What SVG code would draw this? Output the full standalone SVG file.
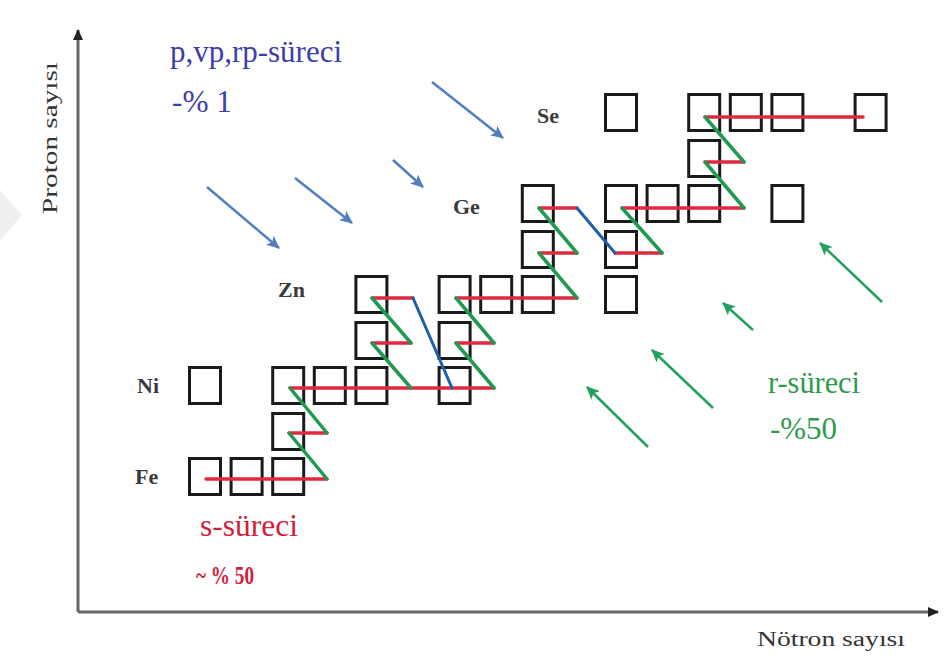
<svg xmlns="http://www.w3.org/2000/svg" width="944" height="661" viewBox="0 0 944 661">
<style>
.box{fill:none;stroke:#1a1a1a;stroke-width:3}
.red{stroke:#de2a40;stroke-width:3.5;fill:none;stroke-linecap:round}
.grn{stroke:#1f9a52;stroke-width:3.5;fill:none;stroke-linecap:round}
.blu{stroke:#1f5ea8;stroke-width:3;fill:none;stroke-linecap:round}
.parr{stroke:#4f80bd;stroke-width:2.5;fill:none}
.rarr{stroke:#22a060;stroke-width:2.5;fill:none}
.axis{stroke:#666;stroke-width:3;fill:none}
.el{font-family:"Liberation Serif",serif;font-weight:bold;font-size:22px;fill:#3a3a3a}
.pt{font-family:"Liberation Serif",serif;font-size:31px;fill:#3d3dab}
.rt{font-family:"Liberation Serif",serif;font-size:31px;fill:#2e9a4e}
.st{font-family:"Liberation Serif",serif;font-size:31px;fill:#d0203a}
.sb{font-family:"Liberation Serif",serif;font-size:25px;font-weight:bold;fill:#d0203a}
.ax{font-family:"Liberation Serif",serif;font-size:20px;fill:#333}
</style>
<defs>
<marker id="hb" markerUnits="userSpaceOnUse" markerWidth="14" markerHeight="12" refX="12" refY="6" orient="auto"><path d="M0,0 L13,6 L0,12 L3,6 z" fill="#4f80bd"/></marker>
<marker id="hg" markerUnits="userSpaceOnUse" markerWidth="14" markerHeight="12" refX="12" refY="6" orient="auto"><path d="M0,0 L13,6 L0,12 L3,6 z" fill="#22a060"/></marker>
<marker id="hk" markerUnits="userSpaceOnUse" markerWidth="12" markerHeight="10" refX="10" refY="5" orient="auto"><path d="M0,0 L11,5 L0,10 z" fill="#222"/></marker>
</defs>
<rect width="944" height="661" fill="#fff"/>
<polygon points="0,190 22,215 0,240" fill="#efefef"/>

<g id="axes">
<path class="axis" d="M78,612 L78,30" marker-end="url(#hk)"/>
<path class="axis" d="M78,612 L938,612" marker-end="url(#hk)"/>
<text class="ax" transform="translate(57,138) rotate(-90)" text-anchor="middle" textLength="152" lengthAdjust="spacingAndGlyphs">Proton sayısı</text>
<text class="ax" x="757" y="646" textLength="148" lengthAdjust="spacingAndGlyphs">Nötron sayısı</text>
</g>

<g id="labels">
<text class="el" x="137" y="393">Ni</text>
<text class="el" x="135" y="484">Fe</text>
<text class="el" x="278" y="297">Zn</text>
<text class="el" x="453" y="214">Ge</text>
<text class="el" x="537" y="123">Se</text>
</g>

<g id="p-label"><text class="pt" x="170" y="62" textLength="172" lengthAdjust="spacingAndGlyphs">p,vp,rp-süreci</text><text class="pt" x="172" y="112" textLength="60" lengthAdjust="spacingAndGlyphs">-% 1</text></g>
<g id="r-label"><text class="rt" x="768" y="393" textLength="92" lengthAdjust="spacingAndGlyphs">r-süreci</text><text class="rt" x="770" y="439" textLength="67" lengthAdjust="spacingAndGlyphs">-%50</text></g>
<g id="s-label"><text class="st" x="200" y="536" textLength="98" lengthAdjust="spacingAndGlyphs">s-süreci</text><text class="sb" x="196" y="584" textLength="58" lengthAdjust="spacingAndGlyphs">~ % 50</text></g>

<g id="nuclei">
<g id="fe-54"><rect class="box" x="189.5" y="458.5" width="31" height="36"/></g>
<g id="fe-56"><rect class="box" x="231.1" y="458.5" width="31" height="36"/></g>
<g id="fe-57"><rect class="box" x="272.7" y="458.5" width="31" height="36"/></g>
<g id="co-59"><rect class="box" x="272.7" y="413.5" width="31" height="36"/></g>
<g id="ni-56"><rect class="box" x="189.5" y="367.5" width="31" height="36"/></g>
<g id="ni-58"><rect class="box" x="272.7" y="367.5" width="31" height="36"/></g>
<g id="ni-59"><rect class="box" x="314.3" y="367.5" width="31" height="36"/></g>
<g id="ni-60"><rect class="box" x="355.9" y="367.5" width="31" height="36"/></g>
<g id="ni-62"><rect class="box" x="439.1" y="367.5" width="31" height="36"/></g>
<g id="cu-63"><rect class="box" x="355.9" y="322.5" width="31" height="36"/></g>
<g id="cu-65"><rect class="box" x="439.1" y="322.5" width="31" height="36"/></g>
<g id="zn-64"><rect class="box" x="355.9" y="276.5" width="31" height="36"/></g>
<g id="zn-66"><rect class="box" x="439.1" y="276.5" width="31" height="36"/></g>
<g id="zn-67"><rect class="box" x="480.7" y="276.5" width="31" height="36"/></g>
<g id="zn-68"><rect class="box" x="522.3" y="276.5" width="31" height="36"/></g>
<g id="zn-70"><rect class="box" x="605.5" y="276.5" width="31" height="36"/></g>
<g id="ga-69"><rect class="box" x="522.3" y="231.5" width="31" height="36"/></g>
<g id="ga-71"><rect class="box" x="605.5" y="231.5" width="31" height="36"/></g>
<g id="ge-70"><rect class="box" x="522.3" y="185.5" width="31" height="36"/></g>
<g id="ge-72"><rect class="box" x="605.5" y="185.5" width="31" height="36"/></g>
<g id="ge-73"><rect class="box" x="647.1" y="185.5" width="31" height="36"/></g>
<g id="ge-74"><rect class="box" x="688.7" y="185.5" width="31" height="36"/></g>
<g id="ge-76"><rect class="box" x="771.9" y="185.5" width="31" height="36"/></g>
<g id="as-75"><rect class="box" x="688.7" y="140.5" width="31" height="36"/></g>
<g id="se-74"><rect class="box" x="605.5" y="94.5" width="31" height="36"/></g>
<g id="se-76"><rect class="box" x="688.7" y="94.5" width="31" height="36"/></g>
<g id="se-77"><rect class="box" x="730.3" y="94.5" width="31" height="36"/></g>
<g id="se-78"><rect class="box" x="771.9" y="94.5" width="31" height="36"/></g>
<g id="se-80"><rect class="box" x="855.1" y="94.5" width="31" height="36"/></g>
</g>

<g id="connectors">
<g id="s-capture">
<path class="red" d="M206,479 H327"/>
<path class="red" d="M289,433 H327"/>
<path class="red" d="M290,388 H494"/>
<path class="red" d="M372,343 H411"/>
<path class="red" d="M456,343 H494"/>
<path class="red" d="M372,298 H413"/>
<path class="red" d="M456,298 H577"/>
<path class="red" d="M539,253 H577"/>
<path class="red" d="M615,253 H662"/>
<path class="red" d="M539,208 H577"/>
<path class="red" d="M622,208 H744"/>
<path class="red" d="M705,162 H744"/>
<path class="red" d="M705,117 H863"/>
</g>
<g id="s-decay">
<path class="grn" d="M327,479 L289,433"/>
<path class="grn" d="M327,433 L290,388"/>
<path class="grn" d="M411,388 L372,343"/>
<path class="grn" d="M411,343 L372,298"/>
<path class="grn" d="M494,388 L456,343"/>
<path class="grn" d="M494,343 L456,298"/>
<path class="grn" d="M577,298 L539,253"/>
<path class="grn" d="M577,253 L539,208"/>
<path class="grn" d="M662,253 L622,208"/>
<path class="grn" d="M744,208 L705,162"/>
<path class="grn" d="M744,162 L705,117"/>
</g>
<g id="branch">
<path class="blu" d="M413,298 L452,388"/>
<path class="blu" d="M577,208 L615,253"/>
</g>
<g id="p-arrows">
<path class="parr" d="M207,187 L279,248" marker-end="url(#hb)"/>
<path class="parr" d="M295,178 L352,223" marker-end="url(#hb)"/>
<path class="parr" d="M393,160 L423,187" marker-end="url(#hb)"/>
<path class="parr" d="M432,82 L503,138" marker-end="url(#hb)"/>
</g>
<g id="r-arrows">
<path class="rarr" d="M882,302 L820,243" marker-end="url(#hg)"/>
<path class="rarr" d="M753,330 L723,303" marker-end="url(#hg)"/>
<path class="rarr" d="M713,408 L652,350" marker-end="url(#hg)"/>
<path class="rarr" d="M648,447 L587,387" marker-end="url(#hg)"/>
</g>
</g>
</svg>
